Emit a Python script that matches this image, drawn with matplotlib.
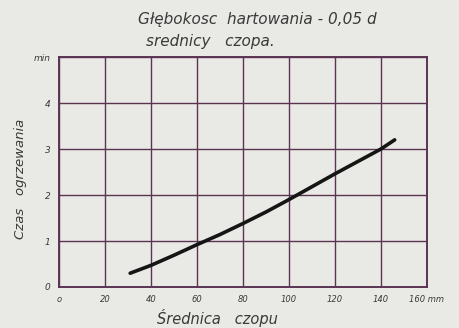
import matplotlib.pyplot as plt

# Średnica czopu [mm] i czas ogrzewania [min]
srednica = [31, 40, 50, 60, 70, 80, 90, 100, 110, 120, 130, 140, 146]
czas = [0.30, 0.47, 0.69, 0.92, 1.14, 1.38, 1.63, 1.90, 2.18, 2.46, 2.73, 3.00, 3.20]

x_ticks = [0, 20, 40, 60, 80, 100, 120, 140, 160]
x_labels = ['o', '20', '40', '60', '80', '100', '120', '140', '160 mm']
y_ticks = [0, 1, 2, 3, 4, 5]
y_labels = ['0', '1', '2', '3', '4', 'min']

bg = '#e9e9e5'
siatka = '#5b3452'
tekst = '#3a3a3a'

fig = plt.figure(figsize=(4.6, 3.28), dpi=100, facecolor=bg)
ax = fig.add_axes([0.128, 0.125, 0.8, 0.701], facecolor=bg)

ax.plot(srednica, czas, color='#151515', lw=2.6, solid_capstyle='round')

ax.set_xlim(0, 160)
ax.set_ylim(0, 5)
ax.set_xticks(x_ticks)
ax.set_xticklabels(x_labels, fontsize=6, style='italic', color=tekst)
ax.set_yticks(y_ticks)
ax.set_yticklabels(y_labels, fontsize=6.5, style='italic', color=tekst)
ax.tick_params(length=0, pad=6)
ax.grid(True, color=siatka, lw=1.0)
for s in ax.spines.values():
    s.set_color(siatka)
    s.set_linewidth(1.4)

ax.set_xlabel('Średnica   czopu', fontsize=10.5, style='italic', color=tekst, va='center')
ax.xaxis.set_label_coords(0.43, -0.135)
ax.set_ylabel('Czas   ogrzewania', fontsize=9.5, style='italic', color=tekst, va='center')
ax.yaxis.set_label_coords(-0.105, 0.47)

fig.text(0.559, 0.94, 'Głębokosc  hartowania - 0,05 d', fontsize=11, style='italic',
         color=tekst, ha='center', va='center')
fig.text(0.318, 0.872, 'srednicy   czopa.', fontsize=11, style='italic',
         color=tekst, ha='left', va='center')

fig.savefig('out.png', dpi=100, facecolor=bg)
